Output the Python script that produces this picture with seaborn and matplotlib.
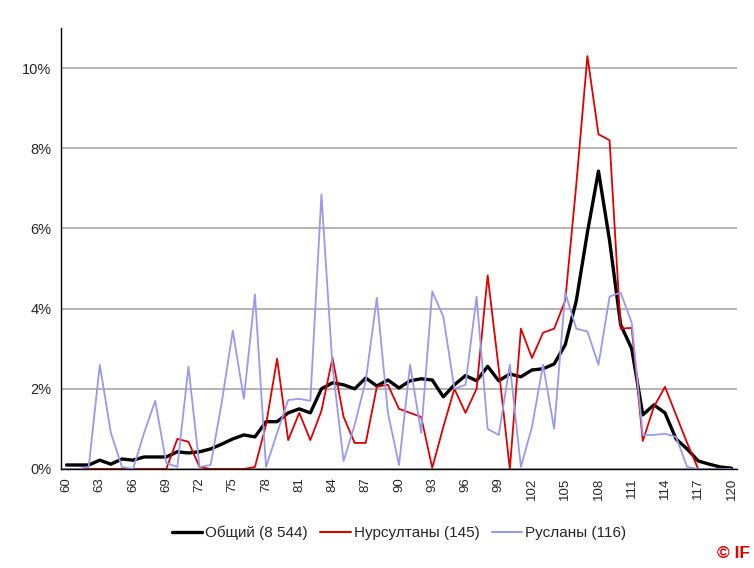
import numpy as np
import pandas as pd
import matplotlib
matplotlib.use("Agg")
import matplotlib.pyplot as plt
import seaborn as sns
from matplotlib.lines import Line2D

x_vals = list(range(60, 121))

total = [0.10, 0.10, 0.10, 0.22, 0.12, 0.25, 0.22, 0.30, 0.30, 0.30,
         0.43, 0.40, 0.43, 0.50, 0.62, 0.75, 0.85, 0.80, 1.18, 1.18,
         1.40, 1.50, 1.40, 2.00, 2.15, 2.10, 2.00, 2.27, 2.07, 2.22,
         2.02, 2.20, 2.25, 2.22, 1.80, 2.10, 2.33, 2.20, 2.56, 2.20,
         2.37, 2.30, 2.47, 2.50, 2.62, 3.10, 4.20, 5.90, 7.43, 5.70,
         3.60, 3.00, 1.35, 1.60, 1.40, 0.75, 0.50, 0.20, 0.12, 0.05,
         0.02]

nursultan = [0, 0, 0, 0, 0, 0, 0, 0, 0, 0,
             0.75, 0.68, 0.05, 0, 0, 0, 0, 0.05, 1.10, 2.75,
             0.72, 1.40, 0.72, 1.45, 2.77, 1.30, 0.65, 0.65, 2.05, 2.10,
             1.50, 1.40, 1.30, 0.03, 1.05, 2.00, 1.40, 2.00, 4.83, 2.50,
             0.00, 3.50, 2.77, 3.40, 3.50, 4.20, 7.10, 10.30, 8.35, 8.20,
             3.50, 3.52, 0.70, 1.55, 2.05, 1.35, 0.65, 0.00, 0, 0,
             0]

ruslan = [0, 0, 0.05, 2.60, 0.90, 0.05, 0.00, 0.90, 1.70, 0.15,
          0.05, 2.55, 0.05, 0.10, 1.65, 3.45, 1.75, 4.35, 0.05, 0.90,
          1.72, 1.75, 1.70, 6.85, 2.55, 0.20, 1.10, 2.20, 4.27, 1.40,
          0.10, 2.60, 0.90, 4.43, 3.80, 2.00, 2.10, 4.30, 1.00, 0.85,
          2.60, 0.05, 1.05, 2.60, 1.00, 4.40, 3.50, 3.43, 2.60, 4.30,
          4.40, 3.65, 0.85, 0.85, 0.88, 0.80, 0.05, 0, 0, 0,
          0]

series_names = ["Общий (8 544)", "Нурсултаны (145)", "Русланы (116)"]
series_colors = ["#000000", "#e00000", "#9999ee"]
series_widths = [2.4, 1.3, 1.3]
x_tick_labels = [str(v) for v in range(60, 121, 3)]

sns.set_style("white")
plt.rcParams["font.family"] = ["Liberation Sans", "DejaVu Sans"]

fig = plt.figure(figsize=(7.54, 5.68), dpi=100)
ax = fig.add_axes([61 / 754, 1 - 469 / 568, 676 / 754, 441 / 568])

for name, vals, col, lw in zip(series_names, [total, nursultan, ruslan],
                               series_colors, series_widths):
    df = pd.DataFrame({"x": x_vals, "y": vals})
    sns.lineplot(data=df, x="x", y="y", ax=ax, color=col, linewidth=lw,
                 legend=False, sort=False, solid_joinstyle="round",
                 solid_capstyle="round")

ax.set_xlim(59.5, 120.5)
ax.set_ylim(0, 11)
ax.set_xlabel("")
ax.set_ylabel("")

ax.set_yticks([0, 2, 4, 6, 8, 10])
ax.set_yticklabels([f"{v}%" for v in [0, 2, 4, 6, 8, 10]], fontsize=10.5)
ax.yaxis.grid(True, color="#b4b4b4", linewidth=1.4)
ax.set_axisbelow(True)
ax.xaxis.grid(False)

ax.set_xticks(list(range(60, 121, 3)))
ax.set_xticklabels(x_tick_labels, rotation=90, fontsize=9.5)
ax.set_xticks(np.arange(59.5, 121, 1), minor=True)
ax.tick_params(axis="x", which="major", length=0, pad=6)
ax.tick_params(axis="x", which="minor", length=4, width=0.8, color="black",
               direction="out")
ax.tick_params(axis="y", which="major", length=4, width=0.8, color="black",
               direction="out", pad=3)

for s in ["top", "right"]:
    ax.spines[s].set_visible(False)
for s in ["left", "bottom"]:
    ax.spines[s].set_color("black")
    ax.spines[s].set_linewidth(1.0)

handles = [Line2D([0], [0], color=c, linewidth=w) for c, w in
           zip(series_colors, [2.4, 1.5, 1.5])]
fig.legend(handles, series_names, loc="center",
           bbox_to_anchor=(399 / 754, 1 - 533 / 568), ncol=3, frameon=False,
           fontsize=11, handlelength=2.0, handletextpad=0.2,
           columnspacing=0.8)

fig.text(0.995, 1 - 553 / 568, "© IF", ha="right", va="center",
         color="#e00000", fontsize=12.5, fontweight="bold")

fig.savefig("out.png", dpi=100)
